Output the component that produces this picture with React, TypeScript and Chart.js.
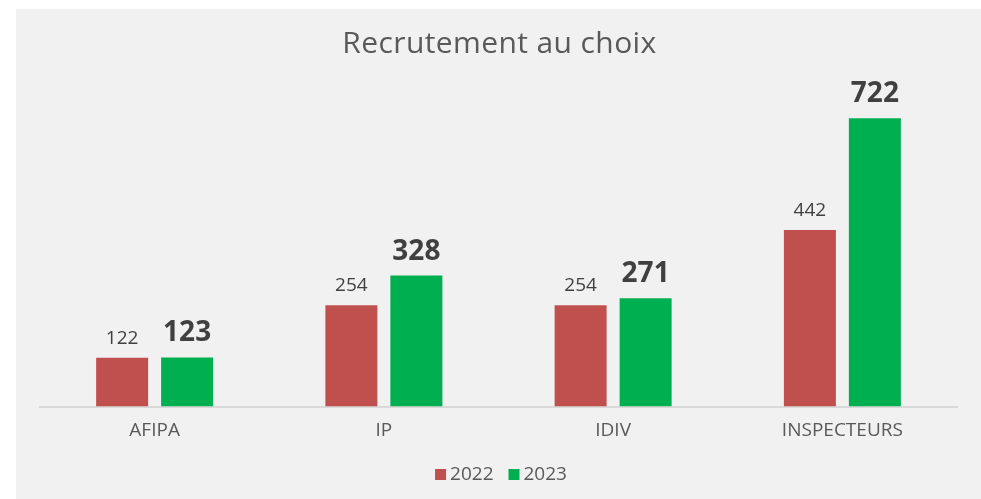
import React, { useEffect, useRef } from "react";
import { Chart, registerables } from "chart.js";

Chart.register(...registerables);

const categories = ["AFIPA", "IP", "IDIV", "INSPECTEURS"];
const series2022 = [122, 254, 254, 442];
const series2023 = [123, 328, 271, 722];
const seriesNames = ["2022", "2023"];
const chartTitle = "Recrutement au choix";

const RED = "#c0504d";
const GREEN = "#00b050";
const FONT = "'Open Sans', sans-serif";

const W = 965;
const H = 490;

const labelsPlugin = {
  id: "customLabels",
  afterDatasetsDraw(chart: any) {
    const ctx = chart.ctx;
    ctx.save();
    chart.data.datasets.forEach((ds: any, di: number) => {
      const meta = chart.getDatasetMeta(di);
      meta.data.forEach((bar: any, i: number) => {
        const v = ds.data[i];
        ctx.fillStyle = "#404040";
        ctx.textAlign = "center";
        ctx.textBaseline = "alphabetic";
        if (di === 0) {
          ctx.font = `400 19px ${FONT}`;
          ctx.fillText(String(v), bar.x, bar.y - 14);
        } else {
          ctx.font = `700 28px ${FONT}`;
          ctx.fillText(String(v), bar.x, bar.y - 16);
        }
      });
    });
    ctx.restore();
  },
  afterDraw(chart: any) {
    const ctx = chart.ctx;
    ctx.save();
    // title
    ctx.fillStyle = "#595959";
    ctx.font = `400 30px ${FONT}`;
    (ctx as any).letterSpacing = "0.4px";
    ctx.textAlign = "center";
    ctx.textBaseline = "alphabetic";
    ctx.fillText(chartTitle, W / 2 + 1, 44);
    (ctx as any).letterSpacing = "0px";
    // legend
    ctx.font = `400 19px ${FONT}`;
    const box = 11;
    const gap = 4;
    const itemGap = 15;
    const colors = [RED, GREEN];
    const widths = seriesNames.map((n) => ctx.measureText(n).width);
    const total = widths.reduce((a, w) => a + box + gap + w, 0) + itemGap;
    let x = 485 - total / 2;
    ctx.textAlign = "left";
    seriesNames.forEach((n, i) => {
      ctx.fillStyle = colors[i];
      ctx.fillRect(x, 460, box, box);
      x += box + gap;
      ctx.fillStyle = "#595959";
      ctx.fillText(n, x, 471);
      x += widths[i] + itemGap;
    });
    ctx.restore();
  },
};

export default function App() {
  const ref = useRef<HTMLCanvasElement | null>(null);

  useEffect(() => {
    if (!ref.current) return;
    const chart = new Chart(ref.current, {
      type: "bar",
      data: {
        labels: categories,
        datasets: [
          {
            label: seriesNames[0],
            data: series2022,
            backgroundColor: RED,
            categoryPercentage: 0.567,
            barPercentage: 0.8,
          },
          {
            label: seriesNames[1],
            data: series2023,
            backgroundColor: GREEN,
            categoryPercentage: 0.567,
            barPercentage: 0.8,
          },
        ],
      },
      options: {
        animation: false,
        responsive: false,
        layout: { padding: { left: 24, right: 24, top: 78, bottom: 43.6 } },
        plugins: {
          legend: { display: false },
          title: { display: false },
          tooltip: { enabled: false },
        },
        scales: {
          x: {
            grid: { display: false, drawTicks: false },
            border: { display: true, color: "#d9d9d9", width: 2 },
            ticks: {
              color: "#595959",
              font: { family: FONT, size: 19 },
              padding: 13,
            },
          },
          y: {
            display: false,
            min: 0,
            max: 800,
          },
        },
      },
      plugins: [labelsPlugin],
    });
    return () => chart.destroy();
  }, []);

  return (
    <div
      style={{
        position: "fixed",
        left: 16,
        top: 9,
        width: W,
        height: H,
        background: "#f1f1f1",
      }}
    >
      <canvas ref={ref} width={W} height={H} style={{ display: "block" }} />
    </div>
  );
}
